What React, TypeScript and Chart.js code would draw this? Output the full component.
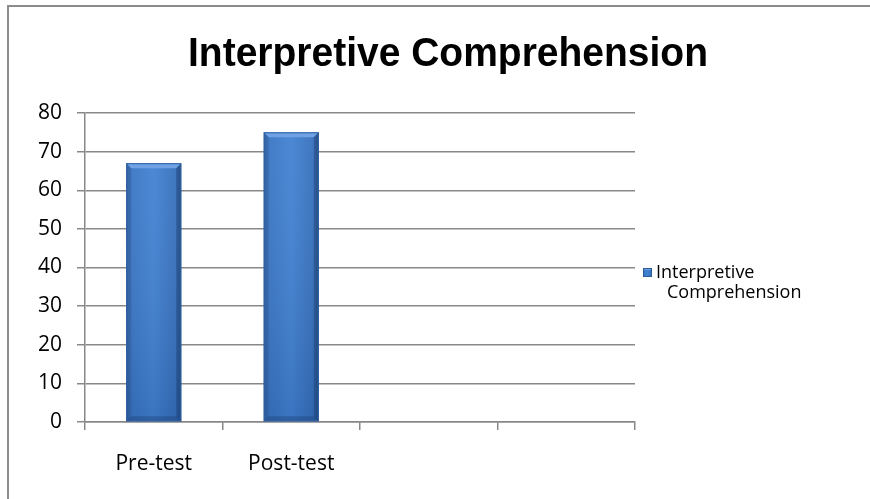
import React, { useEffect, useRef } from "react";
import { Chart, registerables } from "chart.js";

Chart.register(...registerables);

const TITLE = "Interpretive Comprehension";
const categories = ["Pre-test", "Post-test", "", ""];
const seriesLabel = "Interpretive Comprehension";
const seriesValues = [67, 75, null, null];
const yTicks = [0, 10, 20, 30, 40, 50, 60, 70, 80];

const FONT = "'Open Sans', 'DejaVu Sans', sans-serif";

function barGradient(ctx: CanvasRenderingContext2D, x0: number, x1: number) {
  const g = ctx.createLinearGradient(x0, 0, x1, 0);
  g.addColorStop(0, "#2e5f9e");
  g.addColorStop(0.1, "#3a76c4");
  g.addColorStop(0.5, "#4282d3");
  g.addColorStop(0.9, "#3670bb");
  g.addColorStop(1, "#28568f");
  return g;
}

const framePlugin = {
  id: "frame",
  afterDraw(chart: any) {
    const ctx = chart.ctx as CanvasRenderingContext2D;
    ctx.save();
    ctx.strokeStyle = "#8c8c8c";
    ctx.lineWidth = 2;
    ctx.beginPath();
    ctx.moveTo(8, chart.height + 2);
    ctx.lineTo(8, 6);
    ctx.lineTo(chart.width + 2, 6);
    ctx.stroke();
    ctx.restore();
  },
};

const titlePlugin = {
  id: "narrowTitle",
  afterDraw(chart: any) {
    const ctx = chart.ctx as CanvasRenderingContext2D;
    ctx.save();
    ctx.font = `bold 41px 'Liberation Sans', Arial, sans-serif`;
    const w = ctx.measureText(TITLE).width;
    const target = 520;
    const sx = target / w;
    ctx.translate(448, 55);
    ctx.scale(sx, 1);
    ctx.fillStyle = "#000";
    ctx.textAlign = "center";
    ctx.textBaseline = "middle";
    ctx.fillText(TITLE, 0, 0);
    ctx.restore();
  },
};

const bevelPlugin = {
  id: "bevelBars",
  afterDatasetsDraw(chart: any) {
    const ctx = chart.ctx as CanvasRenderingContext2D;
    const meta = chart.getDatasetMeta(0);
    const values = chart.data.datasets[0].data;
    ctx.save();
    meta.data.forEach((el: any, i: number) => {
      if (values[i] == null || el.y == null || isNaN(el.y)) return;
      const x0 = el.x - el.width / 2;
      const x1 = el.x + el.width / 2;
      const top = el.y;
      const bot = el.base;
      const b = 5;
      ctx.fillStyle = barGradient(ctx, x0, x1);
      ctx.fillRect(x0, top, x1 - x0, bot - top);
      const vg = ctx.createLinearGradient(0, top, 0, bot);
      vg.addColorStop(0, "rgba(255,255,255,0.05)");
      vg.addColorStop(1, "rgba(0,20,60,0.12)");
      ctx.fillStyle = vg;
      ctx.fillRect(x0, top, x1 - x0, bot - top);
      ctx.beginPath();
      ctx.moveTo(x0, top);
      ctx.lineTo(x1, top);
      ctx.lineTo(x1 - b, top + b);
      ctx.lineTo(x0 + b, top + b);
      ctx.closePath();
      ctx.fillStyle = "#6fa2e4";
      ctx.fill();
      ctx.beginPath();
      ctx.moveTo(x0, top);
      ctx.lineTo(x0 + b, top + b);
      ctx.lineTo(x0 + b, bot - b);
      ctx.lineTo(x0, bot);
      ctx.closePath();
      ctx.fillStyle = "rgba(45,90,155,0.35)";
      ctx.fill();
      ctx.beginPath();
      ctx.moveTo(x1, top);
      ctx.lineTo(x1 - b, top + b);
      ctx.lineTo(x1 - b, bot - b);
      ctx.lineTo(x1, bot);
      ctx.closePath();
      ctx.fillStyle = "rgba(25,60,115,0.4)";
      ctx.fill();
      ctx.beginPath();
      ctx.moveTo(x0, bot);
      ctx.lineTo(x0 + b, bot - b);
      ctx.lineTo(x1 - b, bot - b);
      ctx.lineTo(x1, bot);
      ctx.closePath();
      ctx.fillStyle = "rgba(30,65,120,0.4)";
      ctx.fill();
      ctx.strokeStyle = "#2f62a3";
      ctx.lineWidth = 1;
      ctx.strokeRect(x0 + 0.5, top + 0.5, x1 - x0 - 1, bot - top - 1);
    });
    ctx.restore();
  },
};

const legendPlugin = {
  id: "customLegend",
  afterDraw(chart: any) {
    const ctx = chart.ctx as CanvasRenderingContext2D;
    const ds = chart.data.datasets[0];
    const x = 643;
    const y = 268;
    ctx.save();
    ctx.fillStyle = barGradient(ctx, x, x + 9);
    ctx.fillRect(x, y, 9, 9);
    ctx.fillStyle = "#6fa2e4";
    ctx.fillRect(x, y, 9, 2);
    ctx.strokeStyle = "#2a5a9a";
    ctx.lineWidth = 1;
    ctx.strokeRect(x + 0.5, y + 0.5, 8, 8);
    ctx.fillStyle = "#000";
    ctx.font = `18px ${FONT}`;
    ctx.textBaseline = "middle";
    const words = String(ds.label).split(" ");
    ctx.fillText(words[0], 656, y + 5);
    ctx.fillText(words.slice(1).join(" "), 667, y + 25);
    ctx.restore();
  },
};

export default function App() {
  const ref = useRef<HTMLCanvasElement | null>(null);
  useEffect(() => {
    if (!ref.current) return;
    const chart = new Chart(ref.current, {
      type: "bar",
      data: {
        labels: categories,
        datasets: [
          {
            label: seriesLabel,
            data: seriesValues as any,
            backgroundColor: "#3a76c4",
            borderColor: "#2d5e9e",
            borderWidth: 1,
            barPercentage: 0.4,
            categoryPercentage: 1,
          },
        ],
      },
      options: {
        responsive: false,
        animation: false,
        maintainAspectRatio: false,
        layout: { padding: { left: 0, right: 235, top: 113, bottom: 0 } },
        plugins: {
          legend: { display: false },
          tooltip: { enabled: false },
          title: { display: false },
        },
        scales: {
          x: {
            offset: true,
            grid: { offset: true, drawOnChartArea: false, color: "#888888", lineWidth: 1.5, tickLength: 8 },
            border: { color: "#888888", width: 1.5 },
            ticks: { color: "#000", font: { family: FONT, size: 21 }, padding: 21, maxRotation: 0 },
            afterFit: (s: any) => { s.height = 77; },
          },
          y: {
            min: 0,
            max: 80,
            afterBuildTicks: (s: any) => { s.ticks = yTicks.map((v) => ({ value: v })); },
            grid: { color: "#888888", lineWidth: 1.5, tickLength: 8 },
            border: { color: "#888888", width: 1.5 },
            ticks: { color: "#000", font: { family: FONT, size: 21 }, padding: 15 },
            afterFit: (s: any) => { s.width = 85; },
          },
        },
      },
      plugins: [bevelPlugin, titlePlugin, legendPlugin, framePlugin],
    } as any);
    return () => chart.destroy();
  }, []);
  return (
    <div style={{ position: "absolute", left: 0, top: 0, width: 870, height: 499, overflow: "hidden", background: "#fff" }}>
      <canvas ref={ref} width={870} height={499} style={{ position: "absolute", left: 0, top: 0 }} />
    </div>
  );
}
